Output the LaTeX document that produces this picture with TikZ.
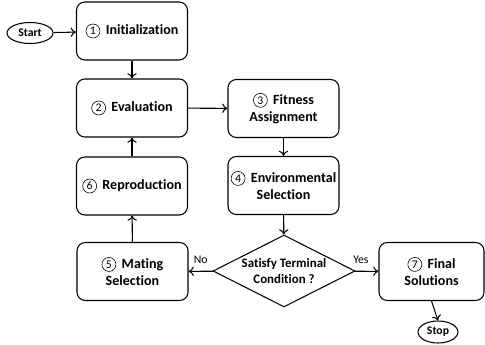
\documentclass[tikz,border=0pt]{standalone}
\usepackage{fontspec}
\setmainfont{Carlito}[Ligatures={NoCommon,NoContextual}]
\usetikzlibrary{arrows.meta,shapes.geometric}

\newcommand{\stepnum}[1]{\tikz[baseline=(num.base)]\node[circle,draw=black,line width=0.5pt,inner sep=0pt,minimum size=0.42cm,font=\fontsize{10}{10}\selectfont\mdseries] (num) {#1};\hspace{2pt}}

\begin{document}
\begin{tikzpicture}
    [
        x=0.03cm,y=-0.03cm,
        stepbox/.style={rectangle,rounded corners=0.25cm,draw=black,line width=0.9pt,minimum width=3.33cm,minimum height=1.74cm,align=center,inner sep=1pt,font=\fontsize{12}{15}\selectfont\bfseries},
        term/.style={ellipse,draw=black,line width=0.9pt,inner sep=0pt,font=\fontsize{10}{12}\selectfont\bfseries},
        test/.style={diamond,draw=black,line width=0.9pt,inner sep=-4pt,aspect=2,minimum width=4.26cm,minimum height=2.16cm,align=center,font=\fontsize{11}{14}\selectfont\bfseries},
        flow/.style={-{To[length=4.5pt,width=8pt]},line width=0.9pt},
        answer/.style={font=\fontsize{10}{12}\selectfont},
    ]
    \useasboundingbox (0,0) rectangle (485,345);
    % terminals
    \node[term,minimum width=1.38cm,minimum height=0.63cm] (start) at (30,33) {Start};
    \node[term,minimum width=1.2cm,minimum height=0.66cm] (stop) at (438,332) {Stop};
    % steps
    \node[stepbox] (init) at (132,31) {\stepnum{1} Initialization};
    \node[stepbox] (eval) at (132,108) {\stepnum{2} Evaluation};
    \node[stepbox] (fit) at (283.5,108.5) {\stepnum{3} Fitness\\Assignment};
    \node[stepbox] (env) at (283.5,185.5) {\stepnum{4} Environmental\\Selection};
    \node[stepbox] (repro) at (132,186) {\stepnum{6} Reproduction};
    \node[stepbox] (mating) at (132.5,271.5) {\stepnum{5} Mating\\Selection};
    \node[stepbox,minimum width=3.15cm] (final) at (431.5,271.5) {\stepnum{7} Final\\Solutions};
    \node[test] (cond) at (284,271) {Satisfy Terminal\\Condition ?};
    % connectors
    \draw[flow] (start) -- (init);
    \draw[flow] (init) -- (eval);
    \draw[flow] (eval) -- (fit);
    \draw[flow] (fit) -- (env);
    \draw[flow] (env) -- (cond);
    \draw[flow] (cond) -- node[answer,above=3pt] {No} (mating);
    \draw[flow] (cond) -- node[answer,above=3pt,pos=0.25] {Yes} (final);
    \draw[flow] (mating) -- (repro);
    \draw[flow] (repro) -- (eval);
    \draw[flow] (final.south) -- (stop.north);
\end{tikzpicture}
\end{document}
